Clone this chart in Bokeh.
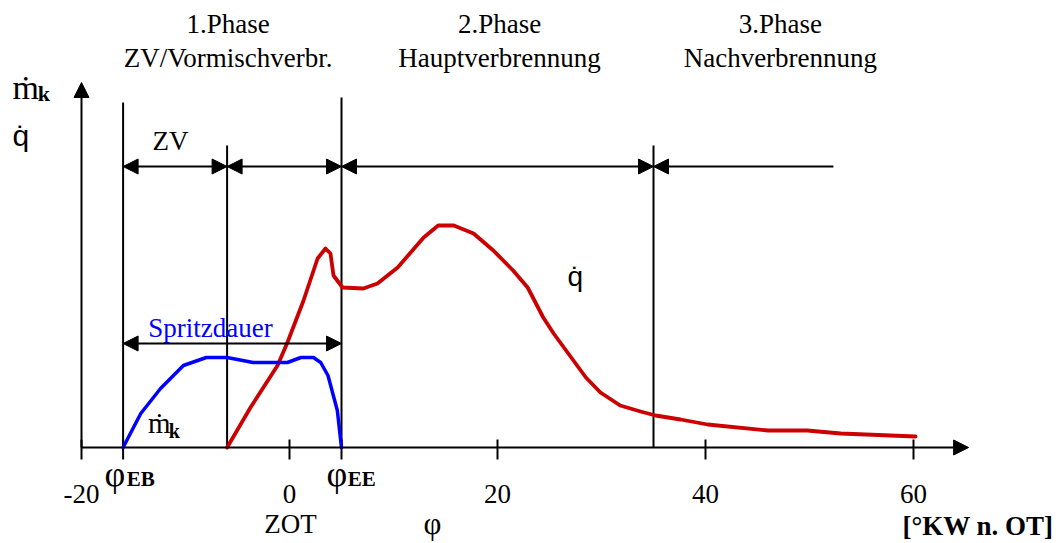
from bokeh.plotting import figure
from bokeh.models import Range1d, Arrow, NormalHead
from bokeh.core.properties import value
from bokeh.embed import file_html
from bokeh.resources import INLINE

# ---------------- data ----------------
phase_titles = ["1.Phase", "2.Phase", "3.Phase"]
phase_names = ["ZV/Vormischverbr.", "Hauptverbrennung", "Nachverbrennung"]
phase_label_x = [-5.9, 20.2, 47.2]

# crank angle boundaries: injection begin, combustion start, injection end, end of main combustion
boundaries = [-16, -6, 5, 35]
boundary_tops = [345, 302, 350, 302]
phase_arrow_end = 52.3
inj_start, inj_end = -16, 5

tick_values = [-20, 0, 20, 40, 60]
tick_labels = ["-20", "0", "20", "40", "60"]

# injection rate m_k
mk_x = [-16.0, -14.3, -12.4, -10.2, -8.0, -6.0, -3.5, -0.2, 1.1, 2.3, 3.0, 3.7, 4.6, 5.0]
mk_y = [0, 34, 59, 82, 90, 90, 85, 85, 90, 90, 85, 72, 37, 0]

# heat release rate q
q_x = [-6.0, -3.75, -1.15, -0.2, 1.35, 2.7, 3.46, 3.94, 4.23, 5.1, 7.1, 8.46, 10.4, 12.9,
       14.3, 15.8, 17.7, 19.6, 21.5, 22.9, 24.4, 25.4, 27.3, 28.5, 29.9, 31.8, 33.75, 35.2,
       37.6, 40.2, 46.0, 49.8, 53.0, 60.2]
q_y = [0, 40, 82, 105, 147, 189, 199, 194, 172, 160, 159, 164, 180, 210,
       222, 222, 214, 197, 177, 160, 130, 114, 87, 70, 55, 42, 36, 32,
       28, 23, 17, 17, 14, 11]

# ---------------- figure ----------------
W, H = 1058, 543
px_per_unit = 10.4
x0_px = 289
p = figure(width=W, height=H, output_backend="svg", toolbar_location=None,
           x_range=Range1d(-x0_px / px_per_unit, (W - x0_px) / px_per_unit),
           y_range=Range1d(447 - H, 447),
           min_border=0, min_border_left=0, min_border_right=0,
           min_border_top=0, min_border_bottom=0)
p.axis.visible = False
p.xgrid.visible = False
p.ygrid.visible = False
p.outline_line_color = None
p.background_fill_color = "white"
p.border_fill_color = "white"

SERIF = value("Liberation Serif")
SANS = value("Liberation Sans")
BLACK = "black"
RED = "#cc0000"
BLUE = "#0000ff"
DY = 10  # baseline correction for text


def head(size=15):
    return NormalHead(size=size, fill_color=BLACK, line_color=BLACK, line_width=1)


def txt(x, y, t, size, font=SERIF, align="left", color=BLACK, style="normal"):
    p.text(x=x, y=[v + DY for v in y], text=t, text_font=font, text_font_size=size,
           text_font_style=style, text_align=align, text_baseline="alphabetic",
           text_color=color)


# axes as arrows
p.add_layout(Arrow(x_start=-20, y_start=0, x_end=65.3, y_end=0, end=head(15),
                   line_width=2, line_color=BLACK))
p.add_layout(Arrow(x_start=-20, y_start=0, x_end=-20, y_end=365, end=head(15),
                   line_width=2, line_color=BLACK))

# ticks
all_ticks = tick_values + [inj_start, inj_end]
p.segment(x0=all_ticks, y0=[-12] * len(all_ticks), x1=all_ticks, y1=[8] * len(all_ticks),
          line_color=BLACK, line_width=2)

# vertical boundary lines
p.segment(x0=boundaries, y0=[0] * 4, x1=boundaries, y1=boundary_tops,
          line_color=BLACK, line_width=2)

# phase arrows
arrow_y = 281
for a, b in zip(boundaries[:-1], boundaries[1:]):
    p.add_layout(Arrow(x_start=a, y_start=arrow_y, x_end=b, y_end=arrow_y,
                       start=head(15), end=head(15), line_width=2, line_color=BLACK))
p.add_layout(Arrow(x_start=phase_arrow_end, y_start=arrow_y, x_end=boundaries[-1], y_end=arrow_y,
                   end=head(15), line_width=2, line_color=BLACK))

# Spritzdauer arrow
p.add_layout(Arrow(x_start=inj_start, y_start=104, x_end=inj_end, y_end=104,
                   start=head(15), end=head(15), line_width=2, line_color=BLACK))

# curves
p.line(q_x, q_y, line_color=RED, line_width=3.8, line_join="round", line_cap="round")
p.line(mk_x, mk_y, line_color=BLUE, line_width=3.5, line_join="round", line_cap="round")

# phase texts
txt(phase_label_x, [414] * 3, phase_titles, "27px", align="center")
txt(phase_label_x, [380] * 3, phase_names, "27px", align="center")

# ZV label
txt([-11.44], [297], ["ZV"], "27px", align="center")

# Spritzdauer
txt([-7.6], [110], ["Spritzdauer"], "27px", align="center", color=BLUE)

# m_k on curve
txt([-13.6], [15], ["\u1e41"], "29px")
txt([-11.6], [7], ["k"], "20px", style="bold")

# q on curve
txt([26.73], [161], ["q\u0307"], "28px", font=SANS)

# y-axis labels
txt([-26.63], [350], ["\u1e41"], "34px")
txt([-24.2], [344], ["k"], "22px", style="bold")
txt([-26.63], [302], ["q\u0307"], "30px", font=SANS)

# phi_EB / phi_EE
txt([-17.8, 3.55], [-36, -36], ["\u03c6", "\u03c6"], "36px")
txt([-15.65, 5.6], [-41, -41], ["EB", "EE"], "21px", style="bold")

# tick labels
txt(tick_values, [-56] * len(tick_values), tick_labels, "27px", align="center")

# ZOT, phi, unit
txt([0.1], [-86], ["ZOT"], "27px", align="center")
txt([13.75], [-86], ["\u03c6"], "31px", align="center")
txt([73.46], [-88], ["[\u00b0KW n. OT]"], "27px", align="right", style="bold")

open("out.html", "w").write(file_html(p, INLINE))
